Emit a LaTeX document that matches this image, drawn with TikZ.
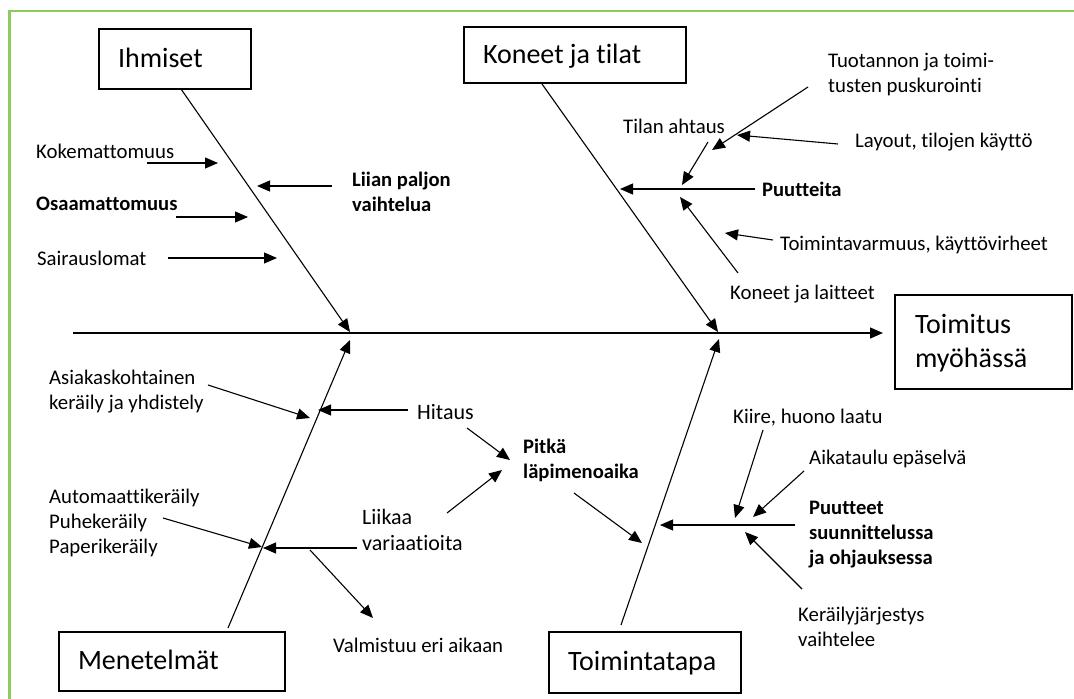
\documentclass[tikz,border=0pt]{standalone}
\usepackage{fontspec}
\setmainfont{Carlito}[Ligatures={NoCommon}]
\usetikzlibrary{arrows.meta}
\definecolor{framegreen}{RGB}{140,204,92}
\begin{document}
\begin{tikzpicture}[x=1pt,y=-1pt,
  lbl/.style={anchor=west,inner sep=0pt,align=left,font=\fontsize{20.8}{25}\selectfont},
  lblb/.style={anchor=west,inner sep=0pt,align=left,font=\fontsize{20.6}{25}\selectfont\bfseries},
  lblbig/.style={anchor=west,inner sep=0pt,align=left,font=\fontsize{22}{26}\selectfont},
  catbox/.style={draw,line width=1.3pt,inner ysep=0pt,inner xsep=19pt,text height=20pt,text depth=4pt,font=\fontsize{28}{34}\selectfont},
  arr/.style={line width=1.1pt,-{Triangle[length=13pt,width=11pt]}}]
\useasboundingbox (0,0) rectangle (1074,699);
\clip (0,0) rectangle (1074,699);
% frame
\draw[framegreen,line width=2.2pt] (9.5,720) -- (9.5,11) -- (1090,11);

% category boxes
\node[catbox,minimum height=60pt] (ihm) at (175,59) {\makebox[114pt][l]{Ihmiset}};
\node[catbox,minimum height=56pt] (kon) at (575,55) {\makebox[184pt][l]{Koneet ja tilat}};
\node[catbox,minimum height=94pt,inner xsep=20pt,text depth=38pt] (toim) at (983.5,342) {\makebox[137pt][l]{\begin{tabular}[t]{@{}l@{}}Toimitus\\myöhässä\end{tabular}}};
\node[catbox,minimum height=59pt] (men) at (172,661.5) {\makebox[188pt][l]{Menetelmät}};
\node[catbox,minimum height=61pt] (tt) at (645,662.5) {\makebox[154pt][l]{Toimintatapa}};

% spine and bones
\coordinate (spL) at (73,333);
\coordinate (spR) at (883,333);
\coordinate (ihmS) at (181,89);
\coordinate (ihmT) at (350,332);
\coordinate (konS) at (542,84);
\coordinate (konT) at (718,332);
\coordinate (menS) at (228,628);
\coordinate (menT) at (350,340);
\coordinate (ttS) at (621,625);
\coordinate (ttT) at (719,339);
\draw[arr,line width=1.3pt] (spL) -- (spR);
\draw[arr] (ihmS) -- (ihmT);
\draw[arr] (konS) -- (konT);
\draw[arr] (menS) -- (menT);
\draw[arr] (ttS) -- (ttT);

% Ihmiset causes
\node[lbl] (kok) at (36,151) {Kokemattomuus};
\node[lblb] (liian) at (352,192) {Liian paljon\\vaihtelua};
\node[lblb] (osa) at (36,204) {Osaamattomuus};
\node[lbl] (sai) at (37,258) {Sairauslomat};
\coordinate (kokA) at (147,163); \coordinate (kokB) at (218,163);
\coordinate (liiA) at (332,186); \coordinate (liiB) at (257,186);
\coordinate (osaA) at (176,217); \coordinate (osaB) at (248,217);
\coordinate (saiA) at (168,258); \coordinate (saiB) at (277,258);
\draw[arr] (kokA) -- (kokB);
\draw[arr] (liiA) -- (liiB);
\draw[arr] (osaA) -- (osaB);
\draw[arr] (saiA) -- (saiB);

% Koneet ja tilat causes
\node[lbl] (tilan) at (623,126) {Tilan ahtaus};
\node[lbl] (tuot) at (828,75) {Tuotannon ja toimi-\\tusten puskurointi};
\node[lbl] (lay) at (855,142) {Layout, tilojen käyttö};
\node[lblb] (puut) at (762,189) {Puutteita};
\node[lbl] (toimv) at (780,245) {Toimintavarmuus, käyttövirheet};
\node[lbl] (konl) at (730,294) {Koneet ja laitteet};
\coordinate (tilA) at (708,142); \coordinate (tilB) at (682,185);
\coordinate (tuoA) at (808,87); \coordinate (tuoB) at (712,150);
\coordinate (layA) at (838,144); \coordinate (layB) at (737,135);
\coordinate (puuA) at (755,189); \coordinate (puuB) at (620,189);
\coordinate (tvA) at (773,240); \coordinate (tvB) at (725,233);
\coordinate (klA) at (738,273); \coordinate (klB) at (680,197);
\draw[arr] (tilA) -- (tilB);
\draw[arr] (tuoA) -- (tuoB);
\draw[arr] (layA) -- (layB);
\draw[arr] (puuA) -- (puuB);
\draw[arr] (tvA) -- (tvB);
\draw[arr] (klA) -- (klB);

% Menetelmat causes
\node[lbl] (asia) at (49,392) {Asiakaskohtainen\\keräily ja yhdistely};
\node[lblbig] (hit) at (417,412) {Hitaus};
\node[lbl] (auto) at (49,523) {Automaattikeräily\\Puhekeräily\\Paperikeräily};
\node[lblbig] (liik) at (362,530) {Liikaa\\variaatioita};
\node[lbl] (valm) at (333,645) {Valmistuu eri aikaan};
\node[lblb] (pitka) at (523,460) {Pitkä\\läpimenoaika};
\coordinate (asA) at (208,385); \coordinate (asB) at (310,418);
\coordinate (hiA) at (408,410); \coordinate (hiB) at (318,410);
\coordinate (hpA) at (467,428); \coordinate (hpB) at (510,460);
\coordinate (auA) at (163,518); \coordinate (auB) at (262,547);
\coordinate (liA) at (357,548); \coordinate (liB) at (263,548);
\coordinate (lpA) at (447,513); \coordinate (lpB) at (502,470);
\coordinate (vaA) at (310,550); \coordinate (vaB) at (373,618);
\coordinate (piA) at (574,493); \coordinate (piB) at (642,543);
\draw[arr] (asA) -- (asB);
\draw[arr] (hiA) -- (hiB);
\draw[arr] (hpA) -- (hpB);
\draw[arr] (auA) -- (auB);
\draw[arr] (liA) -- (liB);
\draw[arr] (lpA) -- (lpB);
\draw[arr] (vaA) -- (vaB);
\draw[arr] (piA) -- (piB);

% Toimintatapa causes
\node[lbl] (kiire) at (733,418) {Kiire, huono laatu};
\node[lbl] (aika) at (809,459) {Aikataulu epäselvä};
\node[lblb] (puut2) at (809,535) {Puutteet\\suunnittelussa\\ja ohjauksessa};
\node[lbl] (kera) at (798,627) {Keräilyjärjestys\\vaihtelee};
\coordinate (p2A) at (795,525); \coordinate (p2B) at (660,525);
\coordinate (kiA) at (763,430); \coordinate (kiB) at (735,518);
\coordinate (aiA) at (804,471); \coordinate (aiB) at (753,517);
\coordinate (keA) at (802,589); \coordinate (keB) at (745,532);
\draw[arr] (p2A) -- (p2B);
\draw[arr] (kiA) -- (kiB);
\draw[arr] (aiA) -- (aiB);
\draw[arr] (keA) -- (keB);
\end{tikzpicture}
\end{document}
